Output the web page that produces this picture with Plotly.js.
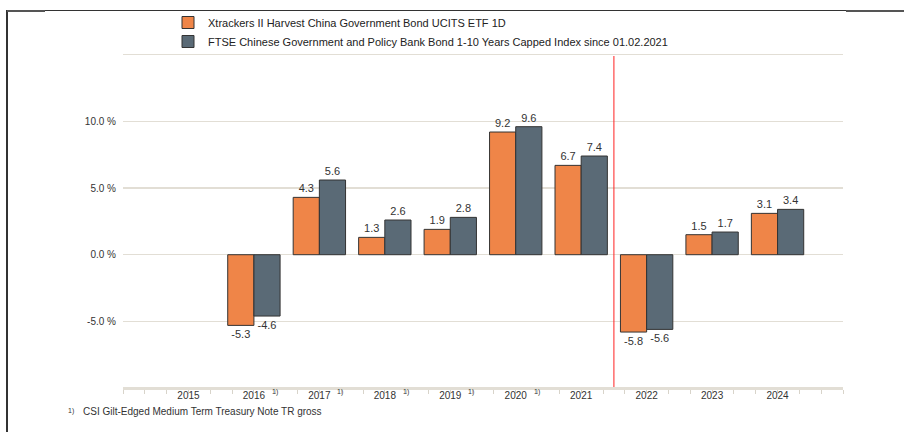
<!DOCTYPE html>
<html>
<head>
<meta charset="utf-8">
<script src="https://cdn.plot.ly/plotly-3.0.1.min.js"></script>
<style>html,body{margin:0;padding:0;background:#fff;}#chart{width:904px;height:432px;}</style>
</head>
<body>
<div id="chart"></div>
<script>
const years = ['2015','2016','2017','2018','2019','2020','2021','2022','2023','2024'];
const footnoteYears = ['2016','2017','2018','2019','2020'];
const fundName = 'Xtrackers II Harvest China Government Bond UCITS ETF 1D';
const indexName = 'FTSE Chinese Government and Policy Bank Bond 1-10 Years Capped Index since 01.02.2021';
const fundValues = [null, -5.3, 4.3, 1.3, 1.9, 9.2, 6.7, -5.8, 1.5, 3.1];
const indexValues = [null, -4.6, 5.6, 2.6, 2.8, 9.6, 7.4, -5.6, 1.7, 3.4];
const yTickVals = [-5, 0, 5, 10, 15];
const yTickText = ['-5.0 %', '0.0 %', '5.0 %', '10.0 %', ''];
const footnoteText = 'CSI Gilt-Edged Medium Term Treasury Note TR gross';
const markerYear = 6.5;

const xIdx = years.map((y, i) => i);
const fmt = v => v === null ? '' : v.toFixed(1);
const font = 'Liberation Sans, Arial, sans-serif';

const L = 123, R = 843, T = 52, B = 387;
const px = x => (x - L) / (R - L);
const py = y => (B - y) / (B - T);

const traces = [
  {type: 'bar', name: fundName, x: xIdx, y: fundValues,
   text: fundValues.map(fmt), textposition: 'outside', cliponaxis: false,
   textfont: {family: font, size: 11, color: '#333'},
   marker: {color: '#ef8548', line: {color: '#333', width: 1}}, hoverinfo: 'skip'},
  {type: 'bar', name: indexName, x: xIdx, y: indexValues,
   text: indexValues.map(fmt), textposition: 'outside', cliponaxis: false,
   textfont: {family: font, size: 11, color: '#333'},
   marker: {color: '#5a6a76', line: {color: '#333', width: 1}}, hoverinfo: 'skip'}
];

const annotations = footnoteYears.map(y => ({
  x: years.indexOf(y), xref: 'x', y: 0, yref: 'paper', yshift: -11, xshift: 21,
  text: '1)', showarrow: false, font: {family: font, size: 7, color: '#333'}
}));
annotations.push({x: px(66), xref: 'paper', y: py(411), yref: 'paper', xanchor: 'left', yanchor: 'middle',
  text: '1)', showarrow: false, font: {family: font, size: 7, color: '#333'}});
annotations.push({x: px(81), xref: 'paper', y: py(411), yref: 'paper', xanchor: 'left', yanchor: 'middle',
  text: footnoteText, showarrow: false, font: {family: font, size: 10, color: '#333'}});

const shapes = [
  {type: 'line', xref: 'x', yref: 'paper', x0: markerYear, x1: markerYear, y0: 0, y1: py(56),
   line: {color: '#ff2020', width: 1}},
  {type: 'line', xref: 'paper', yref: 'paper', x0: px(7), x1: px(904), y0: py(10.5), y1: py(10.5),
   line: {color: '#333', width: 1}},
  {type: 'line', xref: 'paper', yref: 'paper', x0: px(7), x1: px(7), y0: py(10), y1: py(432),
   line: {color: '#333', width: 2}},
  {type: 'line', xref: 'paper', yref: 'paper', x0: px(7), x1: px(45), y0: py(11), y1: py(11),
   line: {color: '#555', width: 2}},
  {type: 'line', xref: 'paper', yref: 'paper', x0: px(846), x1: px(904), y0: py(11), y1: py(11),
   line: {color: '#555', width: 2}}
];

const layout = {
  width: 904, height: 432,
  margin: {l: L, r: 904 - R, t: T, b: 432 - B, pad: 0, autoexpand: false},
  paper_bgcolor: '#fff', plot_bgcolor: '#fff',
  font: {family: font, size: 10, color: '#333'},
  barmode: 'group', bargap: 0.2, bargroupgap: 0,
  showlegend: true,
  legend: {x: px(168), y: py(8), xanchor: 'left', yanchor: 'top', xref: 'paper', yref: 'paper',
    orientation: 'v', font: {family: font, size: 11, color: '#222'}, bgcolor: 'rgba(0,0,0,0)',
    itemwidth: 30, tracegroupgap: 0, traceorder: 'normal'},
  xaxis: {range: [-1, 10], tickvals: xIdx, ticktext: years, ticks: '', showgrid: false, zeroline: false,
    showline: true, linecolor: '#e2ded5', linewidth: 3,
    ticklabelstandoff: -3,
    tickfont: {family: font, size: 10, color: '#333'},
    minor: {ticks: 'outside', dtick: 1/3, tick0: -1, ticklen: 4, tickcolor: '#d8d4ca', tickwidth: 1, showgrid: false},
    fixedrange: true},
  yaxis: {range: [-9.92, 15.2], tickvals: yTickVals, ticktext: yTickText, showgrid: true,
    gridcolor: '#e2ded5', gridwidth: 1.5, zeroline: false, showline: false, ticks: '',
    ticklabelstandoff: 6,
    tickfont: {family: font, size: 10, color: '#333'}, fixedrange: true},
  annotations: annotations,
  shapes: shapes
};

Plotly.newPlot('chart', traces, layout, {displayModeBar: false, staticPlot: true});
</script>
</body>
</html>
